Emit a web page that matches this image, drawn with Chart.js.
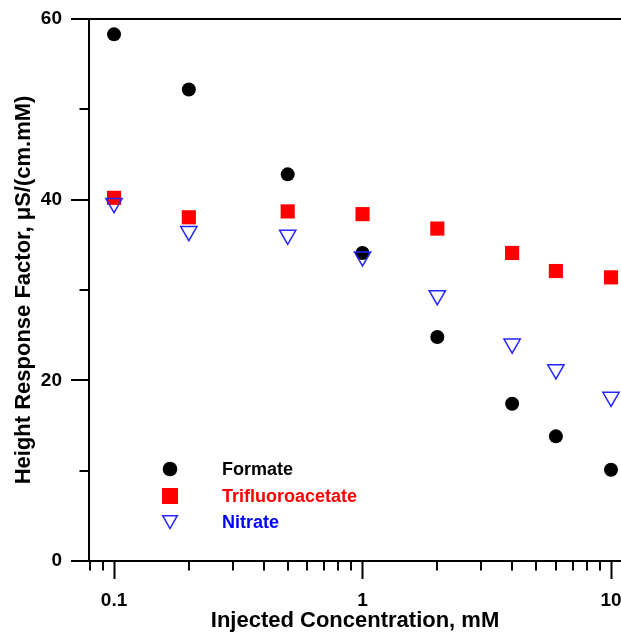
<!DOCTYPE html>
<html>
<head>
<meta charset="utf-8">
<script src="https://cdn.jsdelivr.net/npm/chart.js@4/dist/chart.umd.min.js"></script>
<style>
  body { margin: 0; background: #fff; overflow: hidden; }
  #wrap { width: 621px; height: 634px; }
  canvas { display: block; }
</style>
</head>
<body>
<div id="wrap"><canvas id="chart" width="621" height="634"></canvas></div>
<script>
// Injected concentration (mM)
const concentrations = [0.1, 0.2, 0.5, 1, 2, 4, 6, 10];
// Height response factor, uS/(cm.mM)
const formate = [58.3, 52.2, 42.8, 34.1, 24.8, 17.4, 13.8, 10.1];
const trifluoroacetate = [40.2, 38.05, 38.7, 38.4, 36.8, 34.1, 32.1, 31.4];
const nitrate = [39.6, 36.5, 36.1, 33.7, 29.4, 24.05, 21.2, 18.15];

const xMajorTicks = [0.1, 1, 10];
const xTickLabels = ['0.1', '1', '10'];
const xMinorTicks = [0.08, 0.09, 0.2, 0.3, 0.4, 0.5, 0.6, 0.7, 0.8, 0.9,
                     2, 3, 4, 5, 6, 7, 8, 9];
const yMinorTicks = [10, 30, 50];

const legendItems = [
    { label: 'Formate', color: '#000000', shape: 'circle' },
    { label: 'Trifluoroacetate', color: '#ff0000', shape: 'square' },
    { label: 'Nitrate', color: '#0000ff', shape: 'triangle' }
];

const FONT = "'Liberation Sans', Arial, sans-serif";

function toPoints(values) {
    return concentrations.map((c, i) => ({ x: c, y: values[i] }));
}

// minor ticks and the in-plot legend
const extrasPlugin = {
    id: 'extras',
    afterDraw(chart) {
        const ctx = chart.ctx;
        const x = chart.scales.x;
        const y = chart.scales.y;
        const area = chart.chartArea;
        ctx.save();
        ctx.strokeStyle = '#000';
        ctx.lineWidth = 2;
        ctx.beginPath();
        xMinorTicks.forEach(v => {
            const px = Math.round(x.getPixelForValue(v));
            if (px < area.left - 1 || px > area.right) return;
            ctx.moveTo(px, area.bottom);
            ctx.lineTo(px, area.bottom + 9.5);
        });
        yMinorTicks.forEach(v => {
            const py = Math.round(y.getPixelForValue(v));
            ctx.moveTo(area.left, py);
            ctx.lineTo(area.left - 9.5, py);
        });
        ctx.stroke();

        // legend
        const lx = 170, tx = 222;
        const rows = [469, 496, 522];
        ctx.font = 'bold 18px ' + FONT;
        ctx.textBaseline = 'middle';
        ctx.textAlign = 'left';
        legendItems.forEach((item, i) => {
            const ly = rows[i];
            ctx.beginPath();
            if (item.shape === 'circle') {
                ctx.fillStyle = item.color;
                ctx.arc(lx, ly, 7.3, 0, Math.PI * 2);
                ctx.fill();
            } else if (item.shape === 'square') {
                ctx.fillStyle = item.color;
                ctx.fillRect(lx - 8, ly - 8, 16, 16);
            } else {
                ctx.strokeStyle = '#2525ff';
                ctx.lineWidth = 1.5;
                ctx.moveTo(lx - 7.3, ly - 6.3);
                ctx.lineTo(lx + 7.3, ly - 6.3);
                ctx.lineTo(lx, ly + 6.6);
                ctx.closePath();
                ctx.stroke();
            }
            ctx.fillStyle = item.color;
            ctx.fillText(item.label, tx, ly + 1);
        });
        ctx.restore();
    }
};

new Chart(document.getElementById('chart'), {
    type: 'scatter',
    data: {
        datasets: [
            {
                label: 'Formate',
                data: toPoints(formate),
                pointStyle: 'circle',
                pointRadius: 7,
                pointBackgroundColor: '#000',
                pointBorderWidth: 0,
                order: 2
            },
            {
                label: 'Trifluoroacetate',
                data: toPoints(trifluoroacetate),
                pointStyle: 'rect',
                pointRadius: 10,
                pointBackgroundColor: '#ff0000',
                pointBorderWidth: 0,
                order: 1
            },
            {
                label: 'Nitrate',
                data: toPoints(nitrate),
                pointStyle: 'triangle',
                rotation: 180,
                pointRadius: 9.4,
                pointBackgroundColor: 'rgba(0,0,0,0)',
                pointBorderColor: '#2525ff',
                pointBorderWidth: 1.5,
                order: 0
            }
        ]
    },
    options: {
        responsive: false,
        animation: false,
        layout: { autoPadding: false, padding: { top: 19, left: 0, right: 0, bottom: 0 } },
        plugins: {
            legend: { display: false },
            tooltip: { enabled: false }
        },
        scales: {
            x: {
                type: 'logarithmic',
                min: 0.0793,
                max: 10.97,
                afterFit: s => { s.height = 73; s.paddingLeft = 0; s.paddingRight = 0; },
                afterBuildTicks: s => { s.ticks = xMajorTicks.map(v => ({ value: v })); },
                border: { display: true, color: '#000', width: 2 },
                grid: {
                    drawOnChartArea: false,
                    drawTicks: true,
                    tickLength: 18,
                    tickColor: '#000',
                    tickWidth: 2
                },
                ticks: {
                    color: '#000',
                    padding: 10,
                    maxRotation: 0,
                    autoSkip: false,
                    font: { family: FONT, size: 19, weight: 'bold' },
                    callback: v => {
                        const i = xMajorTicks.indexOf(v);
                        return i >= 0 ? xTickLabels[i] : '';
                    }
                },
                title: {
                    display: true,
                    text: 'Injected Concentration, mM',
                    color: '#000',
                    padding: { top: 0, bottom: 0 },
                    font: { family: FONT, size: 22, weight: 'bold', lineHeight: 1.2 }
                }
            },
            y: {
                type: 'linear',
                min: 0,
                max: 60,
                afterFit: s => { s.width = 89; s.paddingTop = 0; s.paddingBottom = 0; },
                border: { display: true, color: '#000', width: 2 },
                grid: {
                    drawOnChartArea: true,
                    color: c => (c.tick && c.tick.value === 60) ? '#000' : 'rgba(0,0,0,0)',
                    lineWidth: 2,
                    tickLength: 18,
                    tickColor: '#000',
                    tickWidth: 2
                },
                ticks: {
                    stepSize: 20,
                    color: '#000',
                    padding: 9,
                    font: { family: FONT, size: 19, weight: 'bold' }
                },
                title: {
                    display: true,
                    text: 'Height Response Factor, \u03bcS/(cm.mM)',
                    color: '#000',
                    padding: { top: 11, bottom: 0 },
                    font: { family: FONT, size: 22, weight: 'bold', lineHeight: 1.2 }
                }
            }
        }
    },
    plugins: [extrasPlugin]
});
</script>
</body>
</html>
